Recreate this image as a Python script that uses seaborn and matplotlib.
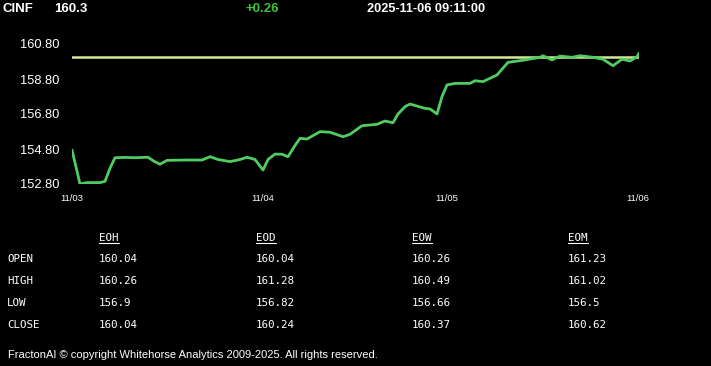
import matplotlib
matplotlib.use("Agg")
import matplotlib.pyplot as plt
import seaborn as sns
import pandas as pd
from matplotlib.lines import Line2D

# header
symbol = "CINF"
last_price = "160.3"
change = "+0.26"
timestamp = "2025-11-06 09:11:00"

# price trace (bar index, price)
bar = [0, 8, 15, 28, 33, 38, 43, 53, 63, 76, 82, 88, 95, 113, 130, 138, 146,
       158, 168, 175, 183, 191, 196, 203, 210, 216, 223, 228, 235, 248, 258,
       271, 278, 290, 305, 313, 321, 326, 333, 338, 353, 358, 365, 370, 375,
       383, 398, 403, 411, 425, 436, 453, 468, 471, 480, 488, 500, 508, 521,
       531, 541, 550, 558, 565, 567]
price = [154.74, 152.80, 152.88, 152.88, 152.95, 153.70, 154.30, 154.32,
         154.30, 154.33, 154.10, 153.93, 154.15, 154.17, 154.17, 154.36,
         154.20, 154.08, 154.20, 154.33, 154.20, 153.60, 154.20, 154.51,
         154.50, 154.36, 155.00, 155.41, 155.37, 155.79, 155.76, 155.50,
         155.64, 156.13, 156.21, 156.40, 156.30, 156.80, 157.22, 157.37,
         157.12, 157.09, 156.80, 157.80, 158.46, 158.55, 158.55, 158.70,
         158.65, 159.03, 159.75, 159.89, 160.04, 160.13, 159.89, 160.11,
         160.04, 160.13, 160.04, 159.93, 159.56, 159.93, 159.83, 160.07,
         160.27]
ref_level = 160.04

day_ticks = [0, 191, 375, 566]
day_labels = ["11/03", "11/04", "11/05", "11/06"]
y_ticks = [152.8, 154.8, 156.8, 158.8, 160.8]

# summary table
periods = ["EOH", "EOD", "EOW", "EOM"]
row_names = ["OPEN", "HIGH", "LOW", "CLOSE"]
open_vals = ["160.04", "160.04", "160.26", "161.23"]
high_vals = ["160.26", "161.28", "160.49", "161.02"]
low_vals = ["156.9", "156.82", "156.66", "156.5"]
close_vals = ["160.04", "160.24", "160.37", "160.62"]

footer = "FractonAI \u00a9 copyright Whitehorse Analytics 2009-2025. All rights reserved."

df = pd.DataFrame({"bar": bar, "price": price})

sns.set_style("dark", {"axes.facecolor": "black", "figure.facecolor": "black"})
plt.rcParams["font.family"] = ["Liberation Sans", "DejaVu Sans"]

W, H = 711, 366
fig = plt.figure(figsize=(W / 100, H / 100), dpi=100, facecolor="black")

y_lo, y_hi = 152.8, 161.3
px_per_unit = 17.5
ax_top = 184 - (y_hi - y_lo) * px_per_unit
ax = fig.add_axes([72 / W, 1 - 184 / H, (639 - 72) / W, (184 - ax_top) / H])
ax.set_facecolor("black")

ax.axhline(ref_level, color="#d6ea98", lw=1.8, zorder=2)
sns.lineplot(data=df, x="bar", y="price", ax=ax, color="#4fcc62", lw=2.0, zorder=3)

ax.set_xlim(0, 567)
ax.set_ylim(y_lo, y_hi)
ax.set_xticks(day_ticks)
ax.set_xticklabels(day_labels)
ax.set_yticks(y_ticks)
ax.set_yticklabels([f"{v:.2f}" for v in y_ticks])
ax.set_xlabel("")
ax.set_ylabel("")
ax.grid(False)
for s in ax.spines.values():
    s.set_visible(False)
ax.tick_params(axis="x", colors="white", length=3, width=1, pad=4, labelsize=6.8)
ax.tick_params(axis="y", colors="white", length=0, pad=9, labelsize=9.3)


def put(x, y, s, **kw):
    return fig.text(x / W, 1 - y / H, s, va="center", ha="left", **kw)


# header line
put(3, 9, symbol, color="white", fontsize=9.5, fontweight="bold")
put(54, 9, last_price, color="white", fontsize=9.5, fontweight="bold")
put(245, 9, change, color="#3cc43c", fontsize=9.5, fontweight="bold")
put(367, 9, timestamp, color="white", fontsize=9.2, fontweight="bold")

# table
mono = dict(color="white", fontsize=7.8, family="DejaVu Sans Mono")
col_x = [99, 256, 412, 568]
row_y = [259, 281, 303, 325]
headers = []
for cx, p in zip(col_x, periods):
    headers.append(put(cx, 238, p, **mono))
for ry, name in zip(row_y, row_names):
    put(7, ry, name, **mono)
for ry, vals in zip(row_y, [open_vals, high_vals, low_vals, close_vals]):
    for cx, v in zip(col_x, vals):
        put(cx, ry, v, **mono)

put(8, 355, footer, color="white", fontsize=8.0)

# underline the period headers
fig.canvas.draw()
r = fig.canvas.get_renderer()
for t in headers:
    bb = t.get_window_extent(r)
    yline = bb.y0 - 0.5
    fig.add_artist(Line2D([bb.x0 / W, bb.x1 / W], [yline / H, yline / H],
                          color="white", lw=0.8, transform=fig.transFigure))

fig.savefig("out.png", dpi=100, facecolor="black")
